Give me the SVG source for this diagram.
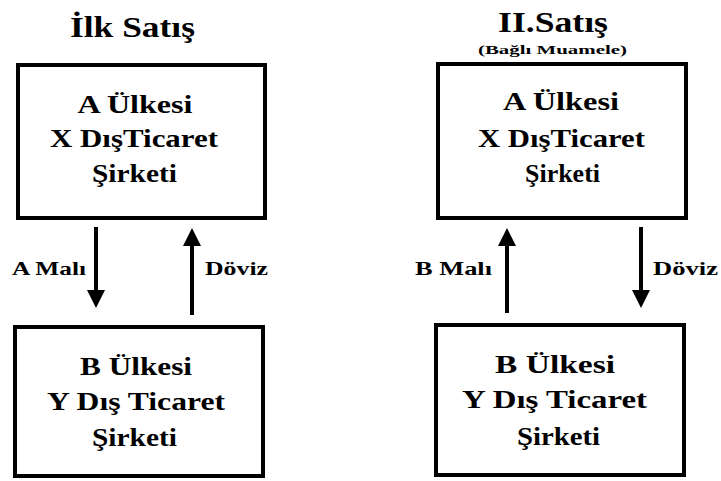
<svg xmlns="http://www.w3.org/2000/svg" width="721" height="481" viewBox="0 0 721 481">
  <style>
    .bg { fill: #ffffff; }
    .box { fill: #ffffff; stroke: #000000; stroke-width: 4; }
    .t { font-family: "Liberation Serif", "Times New Roman", serif; font-weight: bold; fill: #000000; }
    .title { font-size: 30px; }
    .sub { font-size: 13px; }
    .node { font-size: 25px; }
    .lbl { font-size: 18px; }
    .arrow { stroke: #000000; stroke-width: 4; fill: none; }
  </style>
  <defs>
    <marker id="head" markerUnits="userSpaceOnUse" markerWidth="18" markerHeight="18" viewBox="0 0 18 18" refX="3" refY="9" orient="auto">
      <path d="M0,0 L18,9 L0,18 Z" fill="#000000"/>
    </marker>
  </defs>
  <rect class="bg" x="0" y="0" width="721" height="481"/>

  <!-- headings -->
  <text class="t title" x="132.5" y="37" text-anchor="middle" textLength="125" lengthAdjust="spacingAndGlyphs">İlk Satış</text>
  <text class="t title" x="553" y="32" text-anchor="middle" textLength="110" lengthAdjust="spacingAndGlyphs">II.Satış</text>
  <text class="t sub" x="552.5" y="54" text-anchor="middle" textLength="149" lengthAdjust="spacingAndGlyphs">(Bağlı Muamele)</text>

  <!-- first sale -->
  <g id="a-firm-1">
    <rect class="box" x="18" y="65" width="247" height="153"/>
    <text class="t node" x="135" y="113" text-anchor="middle" textLength="115" lengthAdjust="spacingAndGlyphs">A Ülkesi</text>
    <text class="t node" x="134" y="147" text-anchor="middle" textLength="168" lengthAdjust="spacingAndGlyphs">X DışTicaret</text>
    <text class="t node" x="134.5" y="182" text-anchor="middle" textLength="85" lengthAdjust="spacingAndGlyphs">Şirketi</text>
  </g>
  <g id="b-firm-1">
    <rect class="box" x="15" y="327" width="248" height="149"/>
    <text class="t node" x="136" y="375" text-anchor="middle" textLength="112" lengthAdjust="spacingAndGlyphs">B Ülkesi</text>
    <text class="t node" x="136" y="410" text-anchor="middle" textLength="178" lengthAdjust="spacingAndGlyphs">Y Dış Ticaret</text>
    <text class="t node" x="134.5" y="446" text-anchor="middle" textLength="85" lengthAdjust="spacingAndGlyphs">Şirketi</text>
  </g>

  <!-- second sale -->
  <g id="a-firm-2">
    <rect class="box" x="438" y="64" width="248" height="154"/>
    <text class="t node" x="561" y="110" text-anchor="middle" textLength="116" lengthAdjust="spacingAndGlyphs">A Ülkesi</text>
    <text class="t node" x="561.5" y="147" text-anchor="middle" textLength="167" lengthAdjust="spacingAndGlyphs">X DışTicaret</text>
    <text class="t node" x="562.5" y="182" text-anchor="middle" textLength="75" lengthAdjust="spacingAndGlyphs">Şirketi</text>
  </g>
  <g id="b-firm-2">
    <rect class="box" x="436" y="325" width="248" height="150"/>
    <text class="t node" x="555" y="373" text-anchor="middle" textLength="120" lengthAdjust="spacingAndGlyphs">B Ülkesi</text>
    <text class="t node" x="554.5" y="408" text-anchor="middle" textLength="185" lengthAdjust="spacingAndGlyphs">Y Dış Ticaret</text>
    <text class="t node" x="558.5" y="445" text-anchor="middle" textLength="83" lengthAdjust="spacingAndGlyphs">Şirketi</text>
  </g>

  <!-- connectors -->
  <g id="connectors">
    <line class="arrow" x1="96" y1="227" x2="96" y2="293" marker-end="url(#head)"/>
    <line class="arrow" x1="192" y1="315" x2="192" y2="243" marker-end="url(#head)"/>
    <line class="arrow" x1="507" y1="313" x2="507" y2="243" marker-end="url(#head)"/>
    <line class="arrow" x1="641" y1="227" x2="641" y2="293" marker-end="url(#head)"/>
    <text class="t lbl" x="12" y="275" textLength="74" lengthAdjust="spacingAndGlyphs">A Malı</text>
    <text class="t lbl" x="205" y="275" textLength="63" lengthAdjust="spacingAndGlyphs">Döviz</text>
    <text class="t lbl" x="415" y="275" textLength="77" lengthAdjust="spacingAndGlyphs">B Malı</text>
    <text class="t lbl" x="653" y="275" textLength="65" lengthAdjust="spacingAndGlyphs">Döviz</text>
  </g>
</svg>
